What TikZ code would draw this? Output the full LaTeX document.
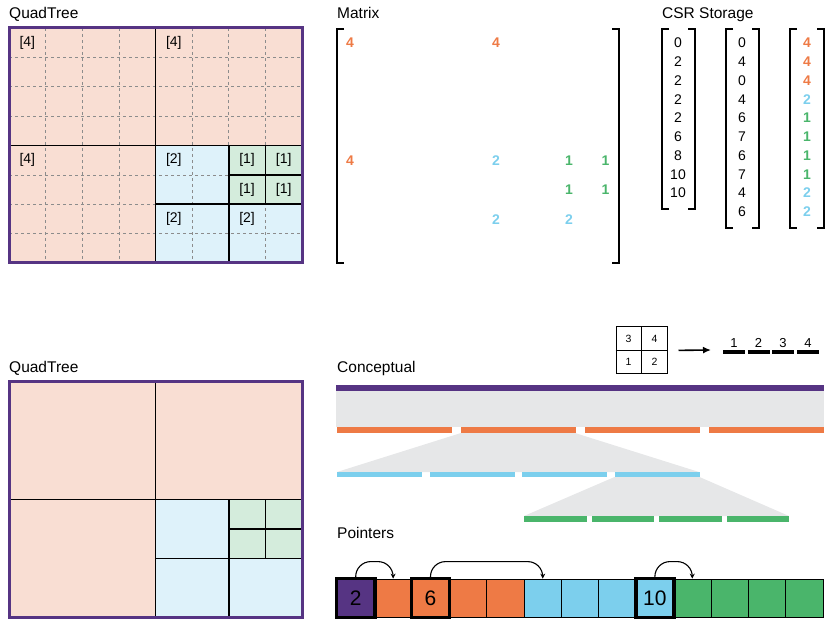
\documentclass[tikz,border=0pt]{standalone}
\usepackage{fontspec}
\setmainfont{Liberation Sans}
\usetikzlibrary{positioning,arrows.meta}

\definecolor{qtpurple}{RGB}{86,52,131}
\definecolor{qtpeach}{RGB}{249,222,211}
\definecolor{qtsky}{RGB}{222,242,250}
\definecolor{qtmint}{RGB}{212,236,220}
\definecolor{qtorange}{RGB}{238,122,69}
\definecolor{qtblue}{RGB}{124,207,237}
\definecolor{qtgreen}{RGB}{74,181,107}
\definecolor{qtgray}{RGB}{230,231,232}

\begin{document}
\begin{tikzpicture}[x=1pt,y=-1pt,
  title/.style={anchor=base west,inner sep=0pt,font=\fontsize{15.5}{18}\selectfont},
  entry/.style={inner sep=0pt,font=\fontsize{14}{16}\selectfont},
  value/.style={entry,font=\fontsize{14}{16}\selectfont\bfseries},
  divider/.style={black,line width=1.5pt},
  dashgrid/.style={black!45,dashed,line width=0.6pt},
  bracket/.style={black,line width=1.5pt},
  ptr/.style={draw=black,line width=0.8pt,minimum width=37.4pt,minimum height=38pt,inner sep=0pt,font=\fontsize{21}{24}\selectfont},
  hop/.style={-{Stealth[length=5pt,width=5pt]},line width=1.1pt,rounded corners=15pt},
]
\useasboundingbox (0,0) rectangle (831,631);

%titles
\node[title] (qttop) at (9,19) {QuadTree};
\node[title] (mxtitle) at (337,19) {Matrix};
\node[title] (csrtitle) at (662,19) {CSR Storage};
\node[title] (qtbot) at (9,373) {QuadTree};
\node[title] (cptitle) at (337,373) {Conceptual};
\node[title] (ptrtitle) at (337,538) {Pointers};

%the two quadtrees, the top one with its grid
\foreach \dy in {0,354}{
\begin{scope}[shift={(0,\dy)}]
\fill[qtpeach] (9,28) rectangle (302,263);
\fill[qtsky] (155.5,145.5) rectangle (302,263);
\fill[qtmint] (228.75,145.5) rectangle (302,204.25);
\ifnum\dy=0
\foreach \i in {1,...,7}{
\draw[dashgrid] (9+\i*36.625,28) -- (9+\i*36.625,263);
\draw[dashgrid] (9,28+\i*29.375) -- (302,28+\i*29.375);
}
\fi
\draw[divider] (155.5,28) -- (155.5,263);
\draw[divider] (9,145.5) -- (302,145.5);
\draw[divider] (228.75,145.5) -- (228.75,263);
\draw[divider] (155.5,204.25) -- (302,204.25);
\draw[divider] (265.4,145.5) -- (265.4,204.25);
\draw[divider] (228.75,174.9) -- (302,174.9);
\draw[qtpurple,line width=3pt] (9,28) rectangle (302,263);
\end{scope}
}

%block sizes in the quadtree and the same entries in the matrix
\foreach \r/\c/\v/\col in {0/0/4/qtorange,0/4/4/qtorange,4/0/4/qtorange,4/4/2/qtblue,4/6/1/qtgreen,4/7/1/qtgreen,5/6/1/qtgreen,5/7/1/qtgreen,6/4/2/qtblue,6/6/2/qtblue}{
\node[entry] (qt\r\c) at (27.3+\c*36.625,42.7+\r*29.375) {[\v]};
\node[value,text=\col] (mx\r\c) at (350+\c*36.5,43+\r*29.4) {\v};
}
\draw[bracket] (344,29) -| (337,263) -- (344,263);
\draw[bracket] (612,29) -| (619,263) -- (612,263);

%csr storage
\foreach \v [count=\i from 0] in {0,2,2,2,2,6,8,10,10}
\node[entry] (rp\i) at (678,43+\i*18.75) {\v};
\foreach \v [count=\i from 0] in {0,4,0,4,6,7,6,7,4,6}
\node[entry] (ci\i) at (742,43+\i*18.75) {\v};
\foreach \v/\col [count=\i from 0] in {4/qtorange,4/qtorange,4/qtorange,2/qtblue,1/qtgreen,1/qtgreen,1/qtgreen,1/qtgreen,2/qtblue,2/qtblue}
\node[value,text=\col] (va\i) at (807,43+\i*18.75) {\v};
\draw[bracket] (669,29) -| (662,209) -- (669,209);
\draw[bracket] (688,29) -| (695,209) -- (688,209);
\draw[bracket] (733,29) -| (726,228) -- (733,228);
\draw[bracket] (752,29) -| (759,228) -- (752,228);
\draw[bracket] (797,29) -| (790,228) -- (797,228);
\draw[bracket] (817,29) -| (824,228) -- (817,228);

%order of the quadrants
\node[draw,line width=1pt,minimum width=51pt,minimum height=47pt,inner sep=0pt] (mini) at (641.5,350.5) {};
\draw[line width=1pt] (mini.north) -- (mini.south);
\draw[line width=1pt] (mini.west) -- (mini.east);
\node[font=\fontsize{10.5}{12}\selectfont] (m3) at (628.5,339) {3};
\node[font=\fontsize{10.5}{12}\selectfont] (m4) at (654.5,339) {4};
\node[font=\fontsize{10.5}{12}\selectfont] (m1) at (628.5,362) {1};
\node[font=\fontsize{10.5}{12}\selectfont] (m2) at (654.5,362) {2};
\coordinate (seq) at (711,350);
\draw[-{Latex[length=8pt,width=7pt]},line width=1.6pt,shorten <=11pt] (mini.east) -- (seq);
\foreach \x [count=\i] in {723,747.5,772,797}{
\draw[line width=3.5pt] (\x,352) -- (\x+22,352);
\node[font=\fontsize{13}{15}\selectfont] (o\i) at (\x+11,343) {\i};
}

%conceptual levels
\fill[qtpurple] (336,385) rectangle (824,391);
\fill[qtgray] (336,391) rectangle (824,427);
\foreach \x in {337,461,585,709}
\fill[qtorange] (\x,427) rectangle (\x+115,433);
\fill[qtgray] (461,433) -- (575,433) -- (699,472) -- (337,472) -- cycle;
\foreach \x in {337,429.5,522,614.5}
\fill[qtblue] (\x,472) rectangle (\x+85,477);
\fill[qtgray] (614.5,477) -- (699.5,477) -- (789,516) -- (524,516) -- cycle;
\foreach \x in {524,591.5,659,726.5}
\fill[qtgreen] (\x,516) rectangle (\x+62.5,522);

%pointers
\foreach \col [count=\i from 0] in {qtpurple,qtorange,qtorange,qtorange,qtorange,qtblue,qtblue,qtblue,qtblue,qtgreen,qtgreen,qtgreen,qtgreen}
\node[ptr,fill=\col] (p\i) at (355.7+\i*37.4,598) {};
\node[font=\fontsize{21}{24}\selectfont] at (p0) {2};
\node[font=\fontsize{21}{24}\selectfont] at (p2) {6};
\node[font=\fontsize{21}{24}\selectfont] at (p8) {10};
\foreach \i in {0,2,8}
\draw[line width=3.5pt] (p\i.south west) rectangle (p\i.north east);
\draw[hop] (p0.north) -- ++(0,-17) -| (p1.north);
\draw[hop] (p2.north) -- ++(0,-17) -| (p5.north);
\draw[hop] (p8.north) -- ++(0,-17) -| (p9.north);

\end{tikzpicture}
\end{document}
